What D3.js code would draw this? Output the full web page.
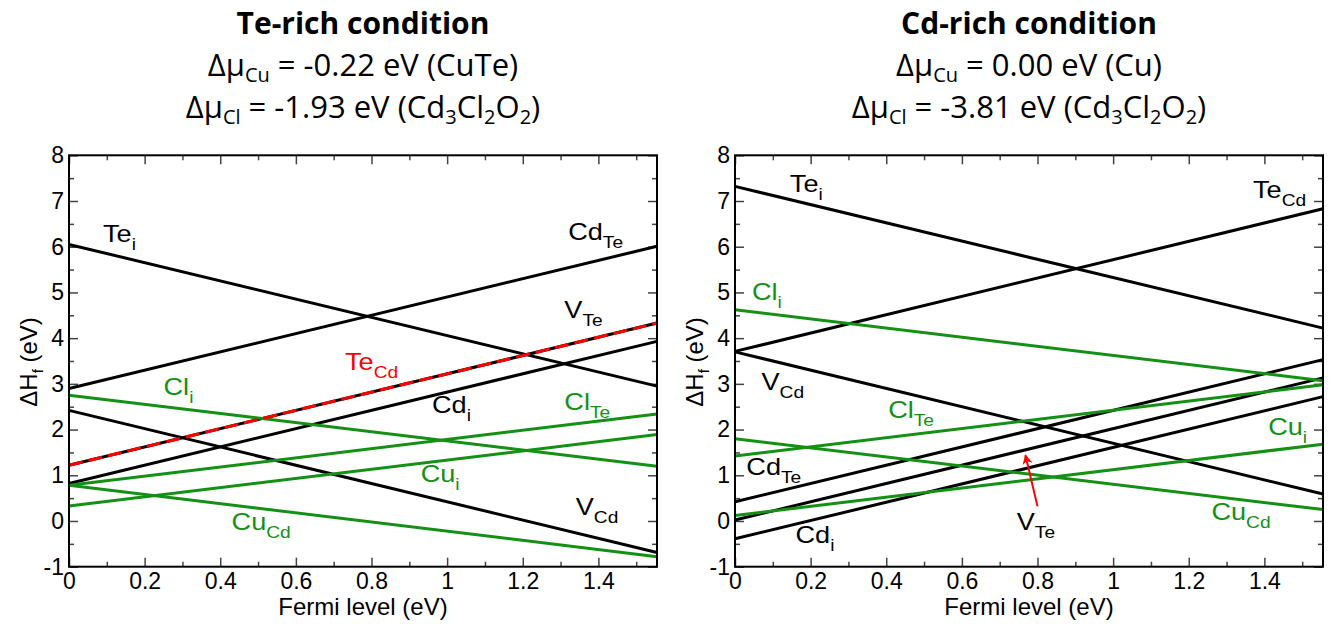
<!DOCTYPE html>
<html>
<head>
<meta charset="utf-8">
<script src="https://cdn.jsdelivr.net/npm/d3@7"></script>
<style>
  body { margin: 0; background: #fff; }
  svg { display: block; }
  .tick text { font-family: "Liberation Sans", Arial, sans-serif; font-size: 23px; fill: #000; }
  .lbl { font-family: "Liberation Sans", Arial, sans-serif; font-size: 24px; }
  .head { font-family: "Open Sans", "Noto Sans", sans-serif; fill: #000; }
</style>
</head>
<body>
<script>
// ---- data ----
const xDomain = [0, 1.555];
const yDomain = [-1, 8];
const xTicks = [0, 0.2, 0.4, 0.6, 0.8, 1, 1.2, 1.4];
const yTicks = [-1, 0, 1, 2, 3, 4, 5, 6, 7, 8];

// each line: [name, sub, E at Ef=0, E at Ef=xmax, color]
const teRichLines = [
  ["Te", "i", 6.05, 2.95, "black"],
  ["Cd", "Te", 2.90, 6.01, "black"],
  ["V", "Te", 1.22, 4.33, "black"],
  ["Cd", "i", 0.82, 3.93, "black"],
  ["V", "Cd", 2.42, -0.69, "black"],
  ["Cl", "i", 2.75, 1.20, "green"],
  ["Cl", "Te", 0.78, 2.34, "green"],
  ["Cu", "i", 0.33, 1.89, "green"],
  ["Cu", "Cd", 0.78, -0.78, "green"]
];
const teRichDashed = [["Te", "Cd", 1.22, 4.33, "red"]];
// label positions [name, sub, x, y, color] in data units
const teRichLabels = [
  ["Te", "i", 0.09, 6.1, "black"],
  ["Cd", "Te", 1.32, 6.15, "black"],
  ["V", "Te", 1.31, 4.45, "black"],
  ["Cd", "i", 0.96, 2.36, "black"],
  ["V", "Cd", 1.34, 0.13, "black"],
  ["Cl", "i", 0.25, 2.75, "green"],
  ["Cl", "Te", 1.31, 2.43, "green"],
  ["Cu", "i", 0.93, 0.86, "green"],
  ["Cu", "Cd", 0.43, -0.2, "green"],
  ["Te", "Cd", 0.73, 3.3, "red"]
];

const cdRichLines = [
  ["Te", "i", 7.32, 4.22, "black"],
  ["Te", "Cd", 3.71, 6.83, "black"],
  ["V", "Cd", 3.70, 0.59, "black"],
  ["Cd", "Te", 0.42, 3.53, "black"],
  ["V", "Te", 0.02, 3.13, "black"],
  ["Cd", "i", -0.39, 2.72, "black"],
  ["Cl", "i", 4.62, 3.07, "green"],
  ["Cl", "Te", 1.42, 2.98, "green"],
  ["Cu", "i", 0.12, 1.68, "green"],
  ["Cu", "Cd", 1.80, 0.25, "green"]
];
const cdRichLabels = [
  ["Te", "i", 0.145, 7.2, "black"],
  ["Te", "Cd", 1.37, 7.07, "black"],
  ["V", "Cd", 0.07, 2.87, "black"],
  ["Cd", "Te", 0.03, 1.0, "black"],
  ["V", "Te", 0.745, -0.2, "black"],
  ["Cd", "i", 0.16, -0.48, "black"],
  ["Cl", "i", 0.045, 4.84, "green"],
  ["Cl", "Te", 0.405, 2.25, "green"],
  ["Cu", "i", 1.41, 1.88, "green"],
  ["Cu", "Cd", 1.26, 0.02, "green"]
];
// arrow [x0, y0, x1, y1] in data units
const cdRichArrow = [0.80, 0.32, 0.768, 1.44];

const colors = { black: "#000000", green: "#149014", red: "#ff0000" };
const stretch = 1.13;  // labels in the original are a bit wider than Liberation Sans

const W = 1335, H = 624;
const svg = d3.select("body").append("svg").attr("width", W).attr("height", H);

svg.append("defs").append("marker")
  .attr("id", "arr").attr("viewBox", "0 0 10 10")
  .attr("refX", 9).attr("refY", 5)
  .attr("markerWidth", 5).attr("markerHeight", 5)
  .attr("markerUnits", "strokeWidth")
  .attr("orient", "auto")
  .append("path").attr("d", "M0,0 L10,5 L0,10 L3,5 z").attr("fill", colors.red);

function addLabel(g, x, y, d) {
  const t = g.append("text").attr("class", "lbl")
    .attr("transform", `translate(${x(d[2])},${y(d[3])}) scale(${stretch},1)`)
    .attr("fill", colors[d[4]]);
  t.append("tspan").text(d[0]);
  t.append("tspan").attr("dy", 8).attr("font-size", 17).text(d[1]);
}

function drawPanel(left, lines, dashed, labels, arrow, title, sub1, sub2) {
  const top = 155.3, bottom = 566.7, right = left + 588;
  const x = d3.scaleLinear().domain(xDomain).range([left, right]);
  const y = d3.scaleLinear().domain(yDomain).range([bottom, top]);
  const g = svg.append("g");

  // title block
  const cx = (left + right) / 2;
  g.append("text").attr("class", "head").attr("x", cx).attr("y", 34)
    .attr("text-anchor", "middle").attr("font-size", 30).attr("font-weight", "bold").text(title);
  const l2 = g.append("text").attr("class", "head").attr("x", cx).attr("y", 76)
    .attr("text-anchor", "middle").attr("font-size", 31);
  l2.append("tspan").text("Δμ");
  l2.append("tspan").attr("dy", 6).attr("font-size", 20).text("Cu");
  l2.append("tspan").attr("dy", -6).text(sub1);
  const l3 = g.append("text").attr("class", "head").attr("x", cx).attr("y", 118)
    .attr("text-anchor", "middle").attr("font-size", 31);
  l3.append("tspan").text("Δμ");
  l3.append("tspan").attr("dy", 6).attr("font-size", 20).text("Cl");
  l3.append("tspan").attr("dy", -6).text(sub2 + " (Cd");
  l3.append("tspan").attr("dy", 6).attr("font-size", 20).text("3");
  l3.append("tspan").attr("dy", -6).text("Cl");
  l3.append("tspan").attr("dy", 6).attr("font-size", 20).text("2");
  l3.append("tspan").attr("dy", -6).text("O");
  l3.append("tspan").attr("dy", 6).attr("font-size", 20).text("2");
  l3.append("tspan").attr("dy", -6).text(")");

  // axes with inward ticks on all sides
  const minorX = d3.range(0, 1.56, 0.1).filter(v => xTicks.every(t => Math.abs(t - v) > 1e-6));
  const minorY = d3.range(-0.5, 8, 1);
  function axisStyle(sel) {
    sel.select(".domain").remove();
    sel.selectAll(".tick line").attr("stroke", "#444").attr("stroke-width", 1.5);
  }
  g.append("g").attr("transform", `translate(0,${bottom})`)
    .call(d3.axisBottom(x).tickValues(xTicks).tickSizeInner(-9).tickPadding(6).tickFormat(d3.format("")))
    .call(axisStyle);
  g.append("g").attr("transform", `translate(0,${bottom})`)
    .call(d3.axisBottom(x).tickValues(minorX).tickSizeInner(-5).tickFormat(""))
    .call(axisStyle);
  g.append("g").attr("transform", `translate(0,${top})`)
    .call(d3.axisTop(x).tickValues(xTicks).tickSizeInner(-9).tickFormat(""))
    .call(axisStyle);
  g.append("g").attr("transform", `translate(0,${top})`)
    .call(d3.axisTop(x).tickValues(minorX).tickSizeInner(-5).tickFormat(""))
    .call(axisStyle);
  g.append("g").attr("transform", `translate(${left},0)`)
    .call(d3.axisLeft(y).tickValues(yTicks).tickSizeInner(-9).tickPadding(5).tickFormat(d => d === -1 ? "-1" : d))
    .call(axisStyle);
  g.append("g").attr("transform", `translate(${left},0)`)
    .call(d3.axisLeft(y).tickValues(minorY).tickSizeInner(-5).tickFormat(""))
    .call(axisStyle);
  g.append("g").attr("transform", `translate(${right},0)`)
    .call(d3.axisRight(y).tickValues(yTicks).tickSizeInner(-9).tickFormat(""))
    .call(axisStyle);
  g.append("g").attr("transform", `translate(${right},0)`)
    .call(d3.axisRight(y).tickValues(minorY).tickSizeInner(-5).tickFormat(""))
    .call(axisStyle);
  g.selectAll(".tick text").attr("font-size", 23).attr("font-family", "Liberation Sans, Arial, sans-serif");

  // defect lines
  const line = d3.line().x(d => x(d[0])).y(d => y(d[1]));
  g.selectAll("path.def").data(lines).enter().append("path")
    .attr("class", "def")
    .attr("d", d => line([[xDomain[0], d[2]], [xDomain[1], d[3]]]))
    .attr("fill", "none").attr("stroke", d => colors[d[4]]).attr("stroke-width", 3);
  g.selectAll("path.dash").data(dashed).enter().append("path")
    .attr("class", "dash")
    .attr("d", d => line([[xDomain[0], d[2]], [xDomain[1], d[3]]]))
    .attr("fill", "none").attr("stroke", d => colors[d[4]]).attr("stroke-width", 3)
    .attr("stroke-dasharray", "14,6");

  // frame
  g.append("rect").attr("x", left).attr("y", top).attr("width", right - left).attr("height", bottom - top)
    .attr("fill", "none").attr("stroke", "#000").attr("stroke-width", 2);

  labels.forEach(d => addLabel(g, x, y, d));

  if (arrow) {
    g.append("line")
      .attr("x1", x(arrow[0])).attr("y1", y(arrow[1]))
      .attr("x2", x(arrow[2])).attr("y2", y(arrow[3]))
      .attr("stroke", colors.red).attr("stroke-width", 2)
      .attr("marker-end", "url(#arr)");
  }

  // axis titles
  g.append("text").attr("class", "lbl").attr("x", cx).attr("y", 615)
    .attr("text-anchor", "middle").attr("font-size", 23).text("Fermi level (eV)");
  const yt = g.append("text").attr("class", "lbl")
    .attr("transform", `translate(${left - 32},${y(3.48)}) rotate(-90)`)
    .attr("text-anchor", "middle").attr("font-size", 23);
  yt.append("tspan").text("ΔH");
  yt.append("tspan").attr("dy", 6).attr("font-size", 15).text("f");
  yt.append("tspan").attr("dy", -6).text(" (eV)");
}

drawPanel(69, teRichLines, teRichDashed, teRichLabels, null,
  "Te-rich condition", " = -0.22 eV (CuTe)", " = -1.93 eV");
drawPanel(735, cdRichLines, [], cdRichLabels, cdRichArrow,
  "Cd-rich condition", " = 0.00 eV (Cu)", " = -3.81 eV");
</script>
</body>
</html>
